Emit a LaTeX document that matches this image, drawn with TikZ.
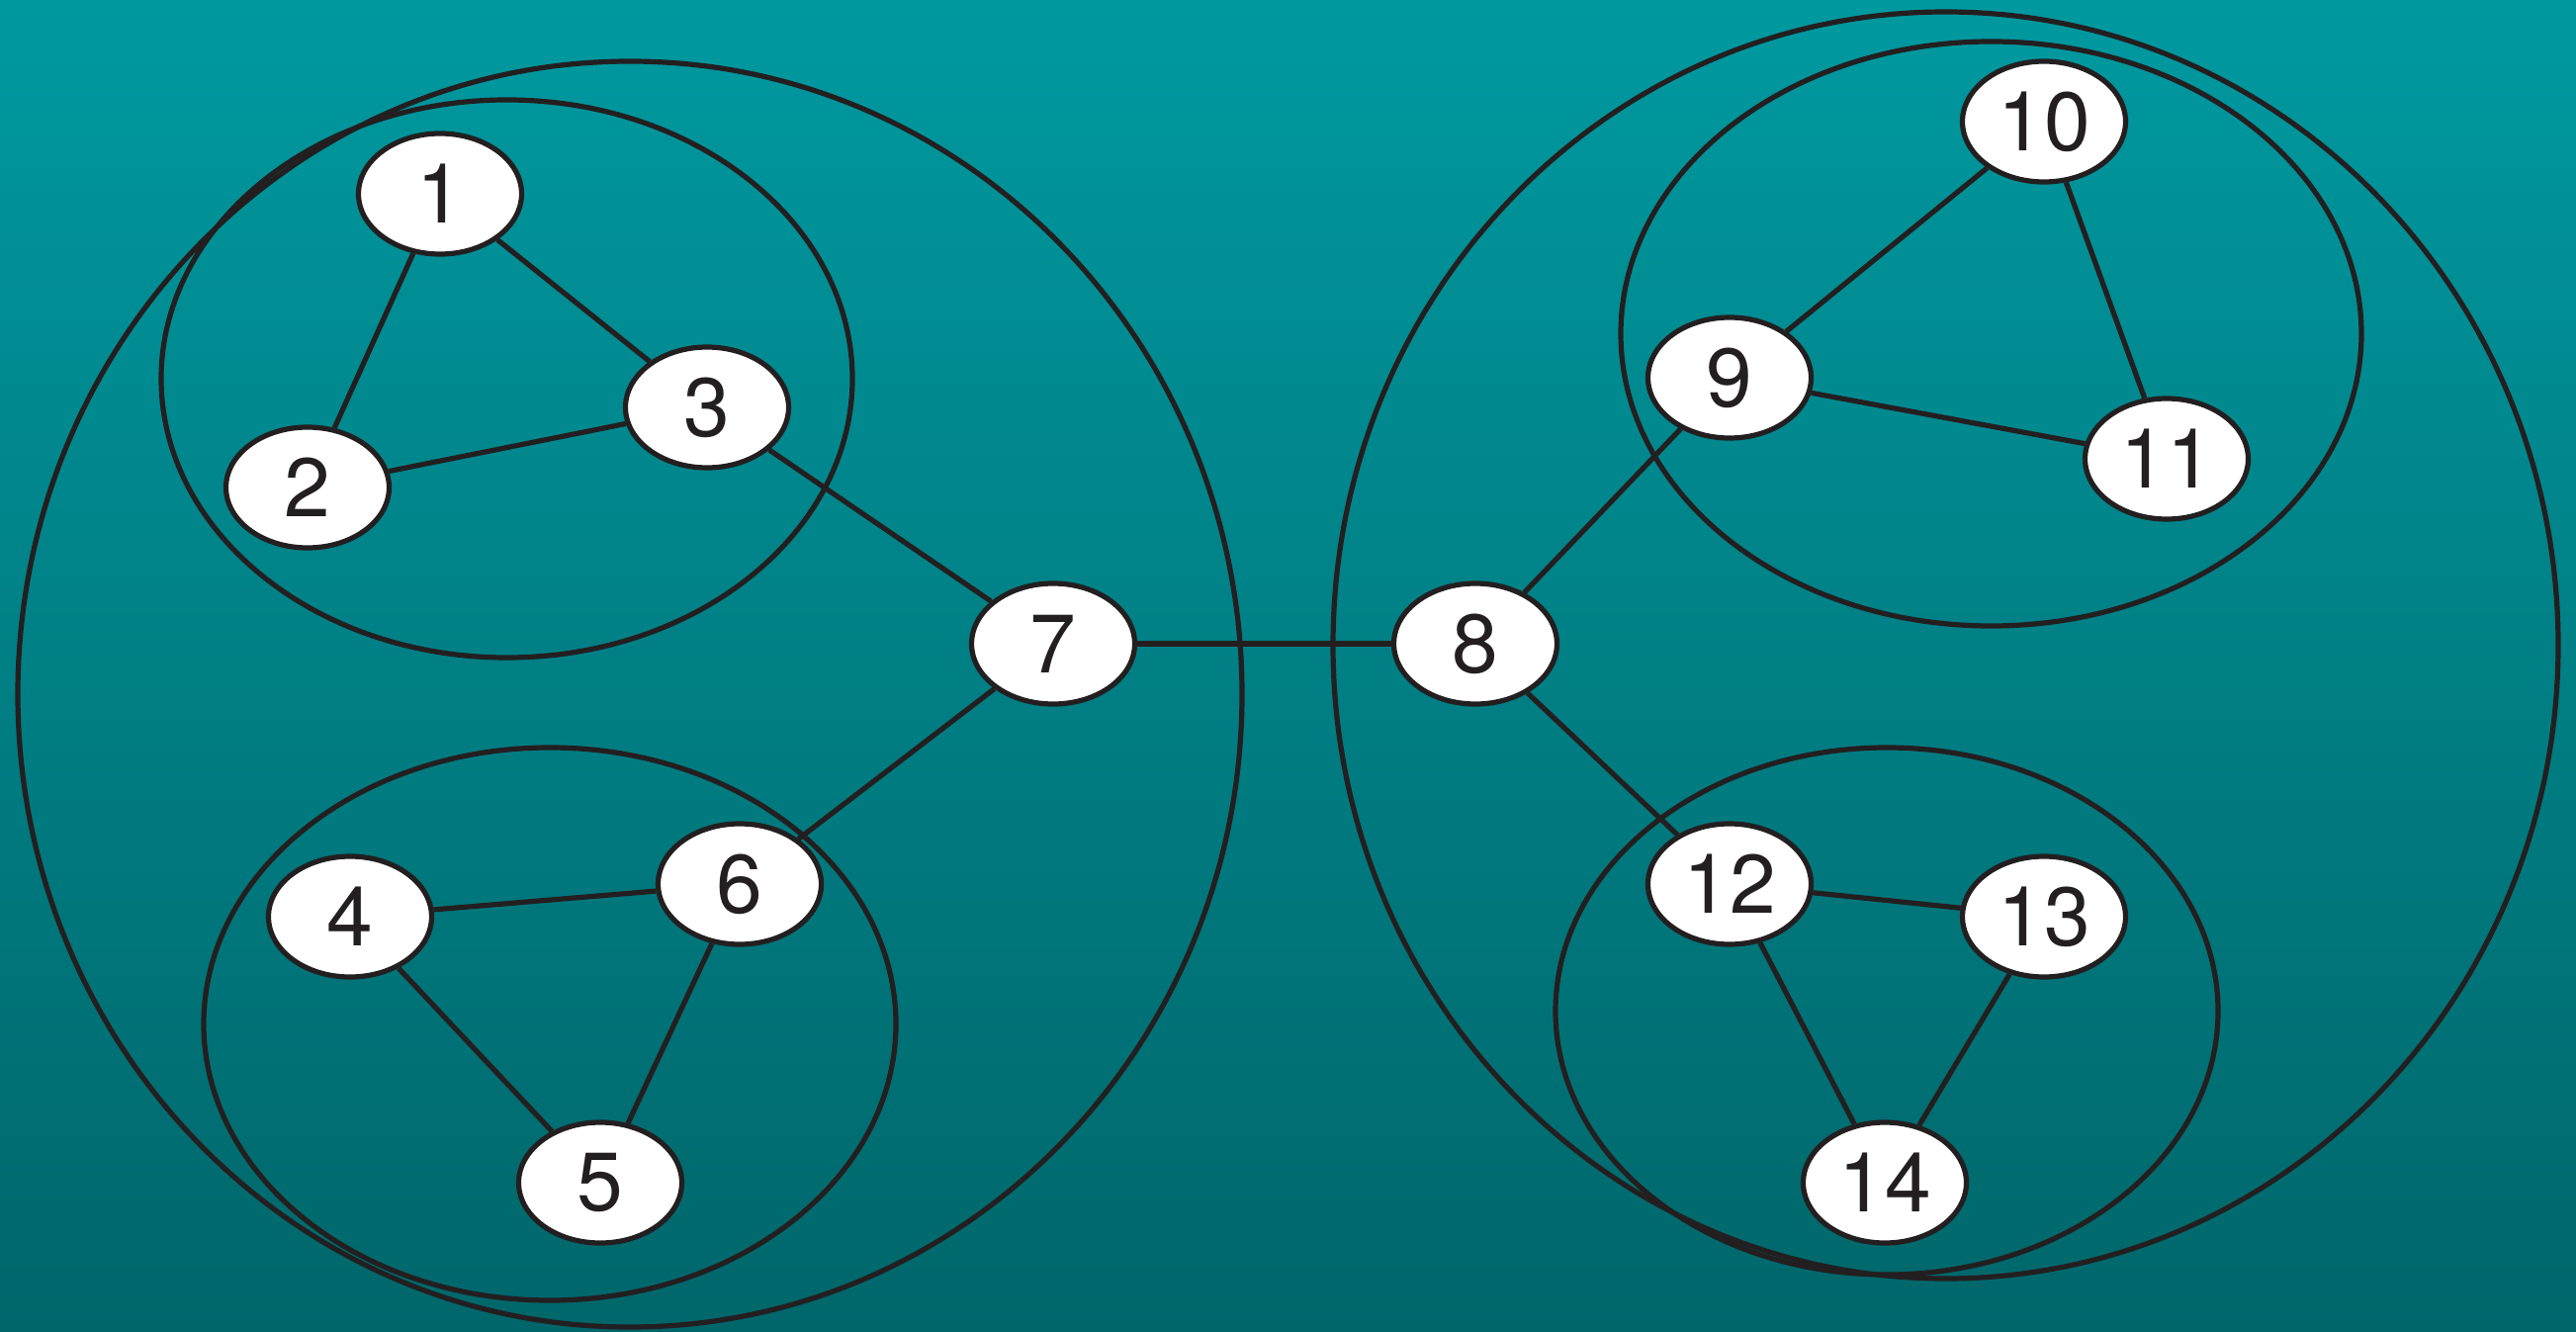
\documentclass[tikz,border=0pt]{standalone}
\usepackage{fontspec}
\setmainfont{TeX Gyre Heros}
\usetikzlibrary{shapes.geometric}
\definecolor{bgtop}{RGB}{0,153,160}
\definecolor{bgbot}{RGB}{0,102,106}
\definecolor{ink}{RGB}{35,31,32}
\begin{document}
\begin{tikzpicture}[x=0.5pt,y=-0.5pt,
  ring/.style={draw=ink,line width=2.6pt},
  vertex/.style={ellipse,draw=ink,fill=white,line width=2.6pt,
    minimum width=82.5pt,minimum height=61pt,inner sep=0pt,
    text=ink,font=\fontsize{42}{50}\selectfont},
  link/.style={draw=ink,line width=2.6pt}]
% background
\shade[top color=bgtop,bottom color=bgbot] (0,0) rectangle (2605,1347);
\useasboundingbox (0,0) rectangle (2605,1347);
% cluster outlines
\draw[ring] (637,702) ellipse [x radius=309.5pt,y radius=320pt];
\draw[ring] (512.5,383) ellipse [x radius=174.75pt,y radius=141pt];
\draw[ring] (556,1035.5) ellipse [x radius=175pt,y radius=139.75pt];
\draw[ring] (1967.5,652.5) ellipse [x radius=309.75pt,y radius=320.25pt];
\draw[ring] (2013.5,337.5) ellipse [x radius=187.25pt,y radius=147.75pt];
\draw[ring] (1908,1022.5) ellipse [x radius=167.5pt,y radius=133.25pt];
% vertices
\node[vertex] (n1) at (445,196) {1};
\node[vertex] (n2) at (311,493) {2};
\node[vertex] (n3) at (715,412) {3};
\node[vertex] (n4) at (354,927) {4};
\node[vertex] (n5) at (607,1196) {5};
\node[vertex] (n6) at (748,894) {6};
\node[vertex] (n7) at (1065,651) {7};
\node[vertex] (n8) at (1492,651) {8};
\node[vertex] (n9) at (1749,382) {9};
\node[vertex] (n10) at (2067,123) {10};
\node[vertex] (n11) at (2191,464) {11};
\node[vertex] (n12) at (1749,894) {12};
\node[vertex] (n13) at (2067,927) {13};
\node[vertex] (n14) at (1906,1196) {14};
% edges
\draw[link] (n1) -- (n2);
\draw[link] (n1) -- (n3);
\draw[link] (n2) -- (n3);
\draw[link] (n3) -- (n7);
\draw[link] (n4) -- (n6);
\draw[link] (n4) -- (n5);
\draw[link] (n6) -- (n5);
\draw[link] (n6) -- (n7);
\draw[link] (n7) -- (n8);
\draw[link] (n8) -- (n9);
\draw[link] (n8) -- (n12);
\draw[link] (n9) -- (n10);
\draw[link] (n10) -- (n11);
\draw[link] (n9) -- (n11);
\draw[link] (n12) -- (n13);
\draw[link] (n12) -- (n14);
\draw[link] (n13) -- (n14);
\end{tikzpicture}
\end{document}
